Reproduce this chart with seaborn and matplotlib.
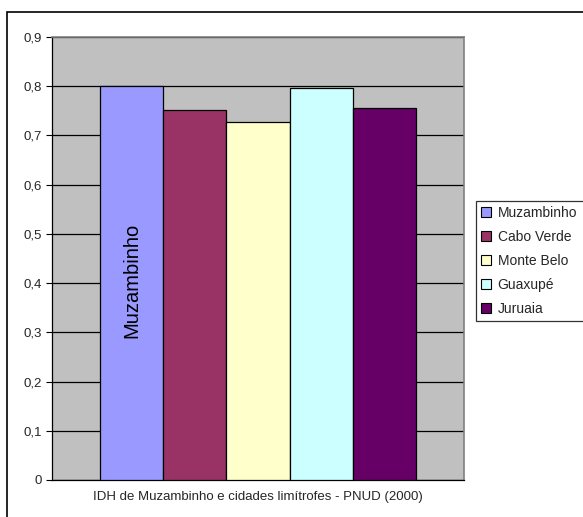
import matplotlib
matplotlib.use("Agg")
import matplotlib.pyplot as plt
import seaborn as sns
import pandas as pd
from matplotlib.patches import Rectangle
from matplotlib.ticker import FuncFormatter

cities = ["Muzambinho", "Cabo Verde", "Monte Belo", "Guaxupé", "Juruaia"]
idh = [0.801, 0.751, 0.728, 0.797, 0.755]
colors = ["#9999FF", "#993366", "#FFFFCC", "#CCFFFF", "#660066"]
group_label = "IDH de Muzambinho e cidades limítrofes - PNUD (2000)"
y_ticks = [0, 0.1, 0.2, 0.3, 0.4, 0.5, 0.6, 0.7, 0.8, 0.9]

df = pd.DataFrame({"grupo": [""] * len(cities), "cidade": cities, "idh": idh})

sns.set_theme(style="white")
plt.rcParams["font.family"] = ["Liberation Sans", "DejaVu Sans"]

fig = plt.figure(figsize=(5.83, 5.17), dpi=100)
ax = fig.add_axes([52 / 583, 1 - 480 / 517, (464 - 52) / 583, (480 - 37) / 517])
ax.set_facecolor("#C0C0C0")

sns.barplot(data=df, x="grupo", y="idh", hue="cidade", hue_order=cities,
            palette=colors, width=0.8, gap=0, edgecolor="black", linewidth=0.9,
            saturation=1, ax=ax, legend=True, zorder=3)

ax.set_xlim(-0.522, 0.522)
ax.set_ylim(0, 0.9)
ax.set_yticks(y_ticks)
ax.yaxis.set_major_formatter(FuncFormatter(lambda v, p: ("%g" % round(v, 1)).replace(".", ",")))
ax.grid(axis="y", color="black", linewidth=0.9, zorder=0)
ax.set_axisbelow(True)
ax.tick_params(axis="y", left=True, length=4, width=0.8, color="black", labelsize=9.5, pad=3)
ax.tick_params(axis="x", bottom=False, labelbottom=False)
ax.set_xlabel(group_label, fontsize=9.5, labelpad=8)
ax.set_ylabel("")
for side in ["top", "right"]:
    ax.spines[side].set_color("#808080")
    ax.spines[side].set_linewidth(1.2)
ax.spines["left"].set_color("black")
ax.spines["bottom"].set_color("black")
ax.spines["left"].set_linewidth(0.9)
ax.spines["bottom"].set_linewidth(0.9)

# label inside first bar
first = ax.patches[0]
ax.text(first.get_x() + first.get_width() / 2, 0.406, cities[0], rotation=90,
        ha="center", va="center", fontsize=14.5, color="black", zorder=5)

handles, labels = ax.get_legend_handles_labels()
ax.legend_.remove()
leg = fig.legend(handles, labels, loc="upper left",
                 bbox_to_anchor=(476 / 583, 1 - 318 / 517, 0.2, (318 - 201) / 517),
                 mode="expand",
                 frameon=True, fancybox=False, edgecolor="black", fontsize=10,
                 handlelength=0.75, handleheight=0.75, handletextpad=0.45,
                 labelspacing=0.72, borderpad=0.35, borderaxespad=0)
leg.get_frame().set_linewidth(0.9)
for h in leg.legend_handles:
    h.set_edgecolor("black")
    h.set_linewidth(0.8)

fig.patches.append(Rectangle((7 / 583, -0.1), 1.2, 1 - 12 / 517 + 0.1,
                             transform=fig.transFigure, fill=False,
                             edgecolor="black", linewidth=1.2, zorder=10))

fig.savefig("out.png", dpi=100, facecolor="white")
